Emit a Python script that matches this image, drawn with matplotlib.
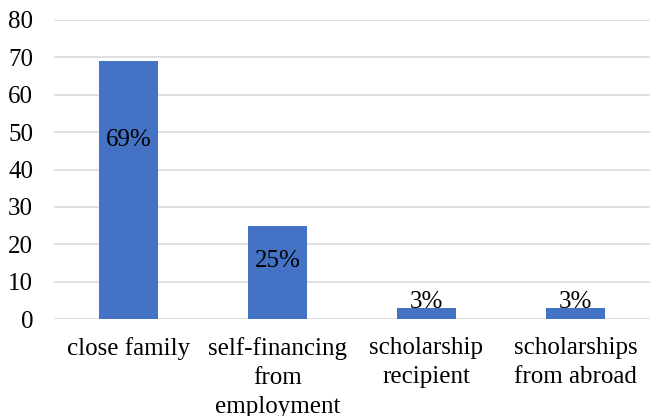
import matplotlib
matplotlib.use('Agg')
import matplotlib.pyplot as plt

# funding sources, share of respondents (%)
categories = ['close family', 'self-financing\nfrom\nemployment',
              'scholarship\nrecipient', 'scholarships\nfrom abroad']
shares = [69, 25, 3, 3]
value_labels = ['69%', '25%', '3%', '3%']
# where each value label sits on the y scale
label_y = [48, 15.5, 4.6, 4.6]

plt.rcParams['font.family'] = ['Liberation Serif', 'DejaVu Serif']

fig = plt.figure(figsize=(6.5, 4.16), dpi=100)
ax = fig.add_axes([54 / 650, 1 - 319 / 416, 1 - 54 / 650, 299 / 416])

x = range(len(categories))
ax.bar(x, shares, width=0.4, color='#4472C4', zorder=3)
for xi, lab, yl in zip(x, value_labels, label_y):
    ax.text(xi, yl, lab, ha='center', va='center', fontsize=18, color='black', zorder=4)

ax.set_xlim(-0.5, 3.5)
ax.set_ylim(0, 80)
ax.set_yticks(range(0, 81, 10))
ax.set_xticks(list(x))
ax.set_xticklabels(categories, fontsize=18, linespacing=1.42)
ax.tick_params(axis='y', labelsize=18, length=0, pad=15)
ax.tick_params(axis='x', length=0, pad=13)

ax.grid(axis='y', color='#D9D9D9', linewidth=1.2, zorder=0)
for s in ax.spines.values():
    s.set_visible(False)

plt.savefig('out.png', dpi=100)
